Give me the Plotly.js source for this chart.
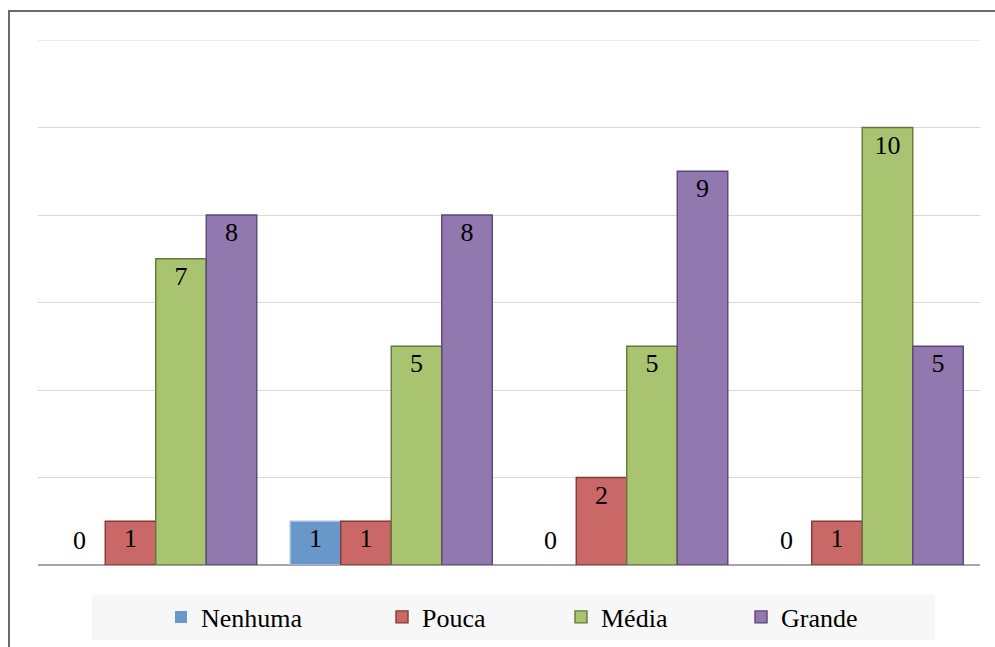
<!DOCTYPE html>
<html>
<head>
<meta charset="utf-8">
<script src="https://cdn.plot.ly/plotly-3.0.1.min.js"></script>
<style>
  html, body { margin: 0; padding: 0; background: #fff; }
  #wrap { position: relative; width: 995px; height: 647px; overflow: hidden; }
  #chart { position: absolute; left: 0; top: 0; width: 995px; height: 647px; }
  #frame { position: absolute; left: 8px; top: 10px; width: 1100px; height: 700px;
           border-left: 2px solid #6a6a6a; border-top: 2px solid #6a6a6a; pointer-events: none; }
</style>
</head>
<body>
<div id="wrap">
  <div id="chart"></div>
  <div id="frame"></div>
</div>
<script>
// Data
const groups = ["G1", "G2", "G3", "G4"];
const seriesNames = ["Nenhuma", "Pouca", "Média", "Grande"];
const nenhuma = [0, 1, 0, 0];
const pouca   = [1, 1, 2, 1];
const media   = [7, 5, 5, 10];
const grande  = [8, 8, 9, 5];
const yTicks  = [0, 2, 4, 6, 8, 10, 12];

// Styles
const FONT = "Liberation Serif";
const fills   = ["#6a97c9", "#c96867", "#a9c470", "#9179b0"];
const borders = ["#a3bee0", "#843837", "#64773b", "#5a4678"];
const legendX = [161, 382, 561, 741];
const W = 995, H = 647;
const plotW = 942, plotH = 525;
const bargap = 0.142;
const barW = plotW / groups.length * (1 - bargap) / seriesNames.length;

const seriesVals = [nenhuma, pouca, media, grande];
const legendIds = ["legend", "legend2", "legend3", "legend4"];

const traces = seriesVals.map((vals, i) => ({
  type: "bar",
  name: seriesNames[i],
  x: groups,
  y: vals,
  text: vals.map(v => v === 0 ? "" : String(v)),
  textposition: "inside",
  insidetextanchor: "end",
  textangle: 0,
  constraintext: "none",
  textfont: { family: FONT, size: 26, color: "#000" },
  marker: {
    color: fills[i],
    line: { color: borders[i], width: vals.map(v => v === 0 ? 0 : 1.4) }
  },
  legend: legendIds[i],
  hoverinfo: "skip"
}));

// zero-value labels, placed at each zero bar's slot
const annotations = [];
seriesVals.forEach((vals, i) => {
  vals.forEach((v, j) => {
    if (v === 0) {
      annotations.push({
        x: groups[j], y: v, xref: "x", yref: "y",
        xshift: (i - 1.5) * barW, yshift: 25,
        yanchor: "middle", xanchor: "center",
        text: String(v), showarrow: false,
        font: { family: FONT, size: 26, color: "#000" }
      });
    }
  });
});

const legendBase = {
  orientation: "h",
  xref: "container", yref: "container",
  yanchor: "middle", xanchor: "left",
  y: 1 - 617 / H,
  bgcolor: "rgba(0,0,0,0)",
  borderwidth: 0,
  itemwidth: 30,
  font: { family: FONT, size: 26, color: "#000" }
};

const layout = {
  width: W, height: H,
  margin: { l: 38, r: 15, t: 40, b: 82 },
  paper_bgcolor: "#fff",
  plot_bgcolor: "#fff",
  font: { family: FONT },
  barmode: "group",
  bargap: bargap,
  bargroupgap: 0,
  showlegend: true,
  xaxis: {
    showticklabels: false, showgrid: false, zeroline: false, showline: false, ticks: ""
  },
  yaxis: {
    range: [0, 12],
    tickvals: yTicks,
    showticklabels: false,
    showgrid: true,
    gridcolor: "rgba(120,120,120,0.28)",
    gridwidth: 1,
    zeroline: true,
    zerolinecolor: "#a6a6a6",
    zerolinewidth: 1.3,
    layer: "above traces",
    ticks: ""
  },
  annotations: annotations,
  shapes: [{
    type: "rect", xref: "paper", yref: "paper", layer: "below",
    x0: (92 - 38) / plotW, x1: (935 - 38) / plotW,
    y0: (565 - 640) / plotH, y1: (565 - 595) / plotH,
    fillcolor: "#f7f7f7", line: { width: 0 }
  }, {
    type: "line", xref: "paper", yref: "y", layer: "above",
    x0: 0, x1: 1, y0: yTicks[yTicks.length - 1], y1: yTicks[yTicks.length - 1],
    line: { color: "rgba(120,120,120,0.28)", width: 1 }
  }]
};
legendIds.forEach((id, i) => {
  layout[id] = Object.assign({}, legendBase, { x: legendX[i] / W });
});

Plotly.newPlot("chart", traces, layout, { displayModeBar: false, staticPlot: true });
</script>
</body>
</html>
